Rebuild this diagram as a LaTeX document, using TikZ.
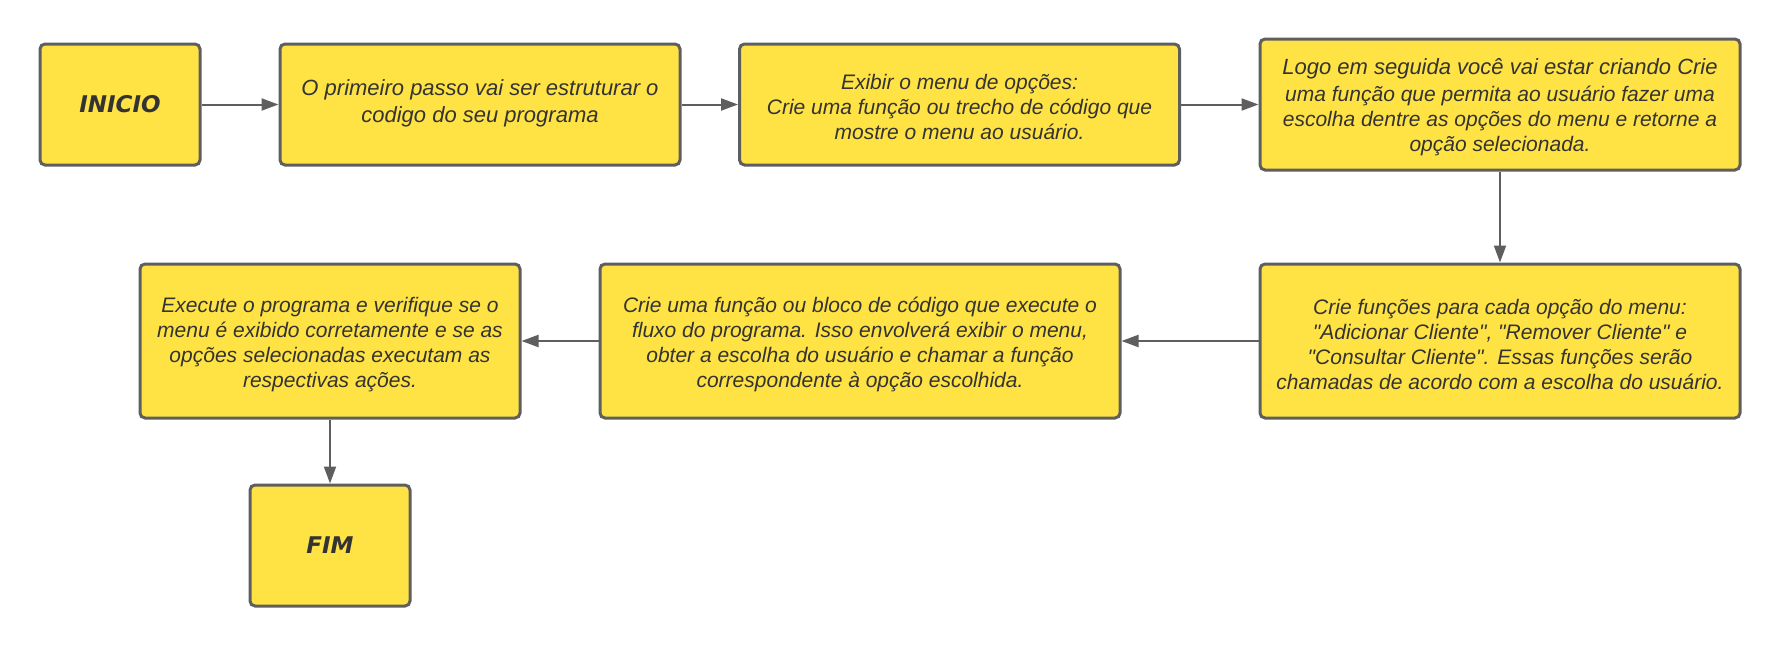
\documentclass[tikz,border=0pt]{standalone}
\usepackage{fontspec}
\setmainfont{Liberation Sans}[Ligatures=TeXOff]
\newfontfamily\markerfont{DejaVu Sans}
\usetikzlibrary{arrows.meta}
\definecolor{boxfill}{HTML}{FFE344}
\definecolor{boxline}{HTML}{5E5E5E}
\definecolor{txt}{HTML}{333333}
\newcommand\dq{\symbol{34}}
\begin{document}
\begin{tikzpicture}[x=1pt,y=-1pt,
  box/.style={draw=boxline,line width=3pt,fill=boxfill,rounded corners=5pt,
    inner sep=0pt,align=center,text=txt,
    font=\fontsize{21}{25}\selectfont\itshape},
  lbl/.style={inner sep=0pt,align=center,text=txt,
    font=\fontsize{21}{25}\selectfont\itshape},
  term/.style={box,font=\markerfont\fontsize{23}{27}\selectfont\bfseries\itshape},
  conn/.style={draw=boxline,line width=2pt,-{Triangle[length=17pt,width=12pt]}}]
\useasboundingbox (0,0) rectangle (1780,645);
\node[term,minimum width=160pt,minimum height=121pt] (ini) at (120,104.5) {INICIO};
\node[box,minimum width=400pt,minimum height=121pt,
  label={[lbl,font=\fontsize{22}{26.7}\selectfont\itshape,yshift=1pt]center:O primeiro passo vai ser estruturar o\\codigo do seu programa}] (b2) at (480,104.5) {};
\node[box,minimum width=440pt,minimum height=121pt,
  label={[lbl,yshift=-2pt]center:Exibir o menu de opções:\\Crie uma função ou trecho de código que\\mostre o menu ao usuário.}] (b3) at (959.5,104.5) {};
\node[box,minimum width=480pt,minimum height=131pt,
  label={[lbl,yshift=-3pt]center:{\fontsize{22}{27.5}\selectfont Logo em seguida você vai estar criando Crie}\\[2pt]uma função que permita ao usuário fazer uma\\escolha dentre as opções do menu e retorne a\\opção selecionada.}] (b4) at (1500,104.5) {};
\node[box,minimum width=480pt,minimum height=154pt,
  label={[lbl,yshift=-3.5pt]center:Crie funções para cada opção do menu:\\\dq Adicionar Cliente\dq, \dq Remover Cliente\dq{} e\\\dq Consultar Cliente\dq. Essas funções serão\\chamadas de acordo com a escolha do usuário.}] (b5) at (1500,341) {};
\node[box,minimum width=520pt,minimum height=154pt,
  label={[lbl,yshift=-3.5pt]center:Crie uma função ou bloco de código que execute o\\fluxo do programa. Isso envolverá exibir o menu,\\obter a escolha do usuário e chamar a função\\correspondente à opção escolhida.}] (b6) at (860,341) {};
\node[box,minimum width=380pt,minimum height=154pt,
  label={[lbl,yshift=-3.5pt]center:Execute o programa e verifique se o\\menu é exibido corretamente e se as\\opções selecionadas executam as\\respectivas ações.}] (b7) at (330,341) {};
\node[term,minimum width=160pt,minimum height=121pt] (fim) at (330,545.5) {FIM};
\draw[conn] (ini) -- (b2);
\draw[conn] (b2) -- (b3);
\draw[conn] (b3) -- (b4);
\draw[conn] (b4) -- (b5);
\draw[conn] (b5) -- (b6);
\draw[conn] (b6) -- (b7);
\draw[conn] (b7) -- (fim);
\end{tikzpicture}
\end{document}
